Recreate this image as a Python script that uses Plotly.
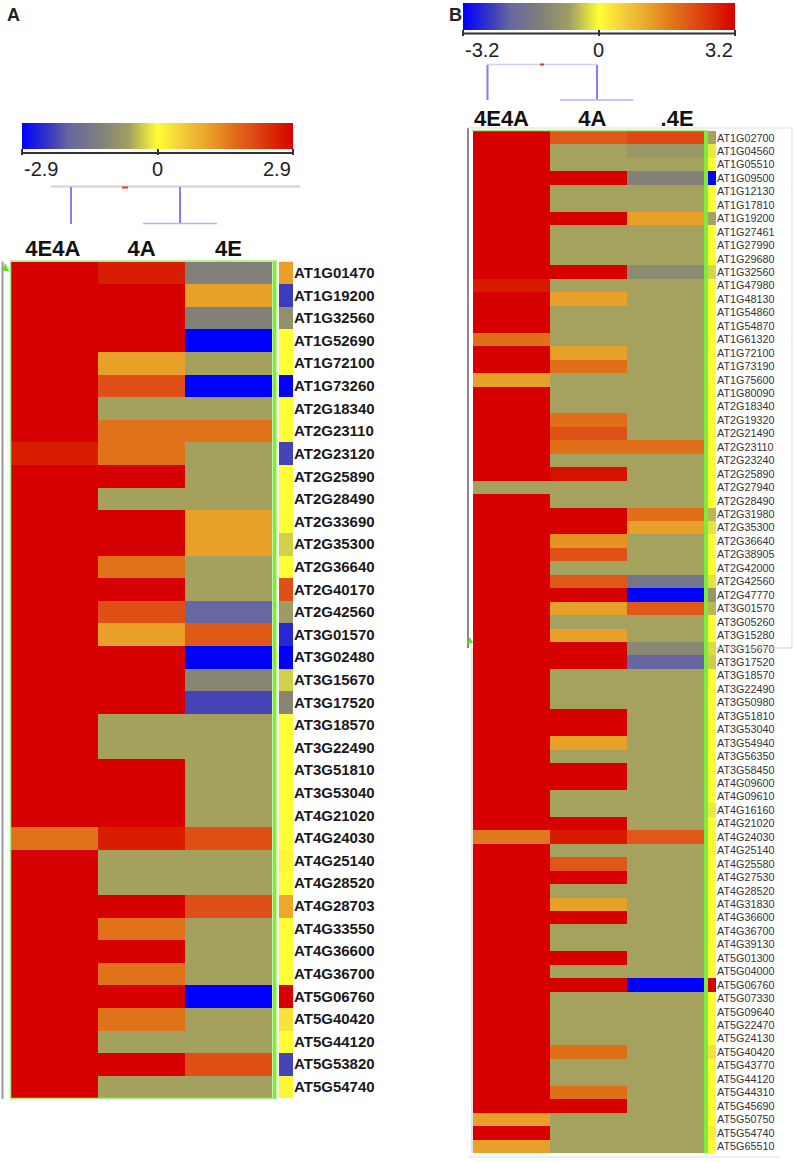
import plotly.graph_objects as go

W, H = 797, 1162


def px(x):
    return x / W


def py(y):
    return 1 - y / H


FONT = "Liberation Sans, Arial, sans-serif"

# ---------------- Panel A data (scale -2.9 .. 2.9) ----------------
cols_a = ["4E4A", "4A", "4E"]
genes_a = ["AT1G01470", "AT1G19200", "AT1G32560", "AT1G52690", "AT1G72100", "AT1G73260",
           "AT2G18340", "AT2G23110", "AT2G23120", "AT2G25890", "AT2G28490", "AT2G33690",
           "AT2G35300", "AT2G36640", "AT2G40170", "AT2G42560", "AT3G01570", "AT3G02480",
           "AT3G15670", "AT3G17520", "AT3G18570", "AT3G22490", "AT3G51810", "AT3G53040",
           "AT4G21020", "AT4G24030", "AT4G25140", "AT4G28520", "AT4G28703", "AT4G33550",
           "AT4G36600", "AT4G36700", "AT5G06760", "AT5G40420", "AT5G44120", "AT5G53820",
           "AT5G54740"]
a_4e4a = [2.9, 2.9, 2.9, 2.9, 2.9, 2.9, 2.9, 2.9, 2.6, 2.9, 2.9, 2.9, 2.9, 2.9, 2.9, 2.9, 2.9, 2.9,
          2.9, 2.9, 2.9, 2.9, 2.9, 2.9, 2.9, 1.6, 2.9, 2.9, 2.9, 2.9, 2.9, 2.9, 2.9, 2.9, 2.9, 2.9, 2.9]
a_4a = [2.6, 2.9, 2.9, 2.9, 1.1, 2.0, -0.6, 1.6, 1.6, 2.9, -0.6, 2.9, 2.9, 1.6, 2.9, 2.0, 1.1, 2.9,
        2.9, 2.9, -0.6, -0.6, 2.9, 2.9, 2.9, 2.6, -0.6, -0.6, 2.9, 1.6, 2.9, 1.6, 2.9, 1.6, -0.6, 2.9, -0.6]
a_4e = [-1.2, 1.1, -1.2, -2.9, -0.6, -2.9, -0.6, 1.6, -0.6, -0.6, -0.6, 1.1, 1.1, -0.6, -0.6, -1.9, 1.9, -2.9,
        -1.1, -2.2, -0.6, -0.6, -0.6, -0.6, -0.6, 2.0, -0.6, -0.6, 2.0, -0.6, -0.6, -0.6, -2.9, -0.6, -0.6, 2.0, -0.6]
a_side = [1.1, -2.3, -0.9, 0, 0, -2.9, 0, 0, -2.2, 0, 0, 0, -0.3, 0, 2.0, -0.7, -2.5, -2.9,
          -0.3, -1.1, 0, 0, 0, 0, 0, 0, 0.1, 0, 1.0, 0, 0, 0, 2.9, 0.3, 0, -2.2, 0.1]
ticks_a = [-2.9, 0, 2.9]

# ---------------- Panel B data (scale -3.2 .. 3.2) ----------------
cols_b = ["4E4A", "4A", ".4E"]
genes_b = ["AT1G02700", "AT1G04560", "AT1G05510", "AT1G09500", "AT1G12130", "AT1G17810",
           "AT1G19200", "AT1G27461", "AT1G27990", "AT1G29680", "AT1G32560", "AT1G47980",
           "AT1G48130", "AT1G54860", "AT1G54870", "AT1G61320", "AT1G72100", "AT1G73190",
           "AT1G75600", "AT1G80090", "AT2G18340", "AT2G19320", "AT2G21490", "AT2G23110",
           "AT2G23240", "AT2G25890", "AT2G27940", "AT2G28490", "AT2G31980", "AT2G35300",
           "AT2G36640", "AT2G38905", "AT2G42000", "AT2G42560", "AT2G47770", "AT3G01570",
           "AT3G05260", "AT3G15280", "AT3G15670", "AT3G17520", "AT3G18570", "AT3G22490",
           "AT3G50980", "AT3G51810", "AT3G53040", "AT3G54940", "AT3G56350", "AT3G58450",
           "AT4G09600", "AT4G09610", "AT4G16160", "AT4G21020", "AT4G24030", "AT4G25140",
           "AT4G25580", "AT4G27530", "AT4G28520", "AT4G31830", "AT4G36600", "AT4G36700",
           "AT4G39130", "AT5G01300", "AT5G04000", "AT5G06760", "AT5G07330", "AT5G09640",
           "AT5G22470", "AT5G24130", "AT5G40420", "AT5G43770", "AT5G44120", "AT5G44310",
           "AT5G45690", "AT5G50750", "AT5G54740", "AT5G65510"]
b_4e4a = [3.2, 3.2, 3.2, 3.2, 3.2, 3.2, 3.2, 3.2, 3.2, 3.2, 3.2, 2.9, 3.2, 3.2, 3.2, 1.8, 3.2, 3.2,
          1.2, 3.2, 3.2, 3.2, 3.2, 3.2, 3.2, 3.2, -0.66, 3.2, 3.2, 3.2, 3.2, 3.2, 3.2, 3.2, 3.2, 3.2,
          3.2, 3.2, 3.2, 3.2, 3.2, 3.2, 3.2, 3.2, 3.2, 3.2, 3.2, 3.2, 3.2, 3.2, 3.2, 3.2, 1.7, 3.2,
          3.2, 3.2, 3.2, 3.2, 3.2, 3.2, 3.2, 3.2, 3.2, 3.2, 3.2, 3.2, 3.2, 3.2, 3.2, 3.2, 3.2, 3.2,
          3.2, 1.2, 3.2, 1.2]
b_4a = [2.1, -0.66, -0.66, 3.2, -0.66, -0.66, 3.2, -0.66, -0.66, -0.66, 3.2, -0.66, 1.2, -0.66, -0.66, -0.66, 1.2, 1.8,
        -0.66, -0.66, -0.66, 1.8, 2.2, 1.8, -0.66, 3.0, -0.66, -0.66, 3.2, 3.2, 1.4, 2.2, -0.66, 2.1, 3.2, 1.2,
        -0.66, 1.2, 3.2, 3.2, -0.66, -0.66, -0.66, 3.2, 3.2, 1.2, -0.66, 3.2, 3.2, -0.66, -0.66, 3.2, 2.9, -0.66,
        2.1, 3.2, -0.66, 1.2, 3.2, -0.66, -0.66, 3.2, -0.66, 3.2, -0.66, -0.66, -0.66, -0.66, 1.8, -0.66, -0.66, 1.8,
        3.2, -0.66, -0.66, -0.66]
b_4e = [2.3, -0.85, -0.66, -1.3, -0.66, -0.66, 1.2, -0.66, -0.66, -0.66, -1.1, -0.66, -0.66, -0.66, -0.66, -0.66, -0.66, -0.66,
        -0.66, -0.66, -0.66, -0.66, -0.66, 1.8, -0.66, -0.66, -0.66, -0.66, 1.8, 1.2, -0.66, -0.66, -0.66, -1.7, -3.2, 2.1,
        -0.66, -0.66, -1.2, -2.1, -0.66, -0.66, -0.66, -0.66, -0.66, -0.66, -0.66, -0.66, -0.66, -0.66, -0.66, -0.66, 2.1, -0.66,
        -0.66, -0.66, -0.66, -0.66, -0.66, -0.66, -0.66, -0.66, -0.66, -3.2, -0.66, -0.66, -0.66, -0.66, -0.66, -0.66, -0.66, -0.66,
        -0.66, -0.66, -0.66, -0.66]
b_side = [-0.66, -0.15, 0, -3.2, 0, 0, -0.66, 0, 0, 0, -0.3, 0, 0, 0, 0, 0, 0, 0,
          0, 0, 0, 0, 0, 0, 0, 0, 0, 0, -0.5, -0.2, 0, 0, 0, -0.2, -0.9, -0.5,
          0, 0, -0.25, -0.35, 0, 0, 0, 0, 0, 0, 0, 0, 0, 0, -0.15, 0, 0.1, 0.1,
          0, 0, 0, 0, 0, 0, 0, 0, 0, 3.2, 0, 0, 0, 0, 0.35, 0, 0, 0,
          0, 0, 0.2, 0]
ticks_b = [-3.2, 0, 3.2]

COLORSCALE = [
    [0.0, "#0000ff"], [0.12, "#4444b4"], [0.17, "#6666a2"], [0.29, "#80807a"],
    [0.395, "#a3a060"], [0.5, "#ffff33"], [0.6, "#f2c83a"], [0.69, "#e8a028"],
    [0.78, "#e07018"], [0.845, "#df5016"], [0.95, "#d81c00"], [1.0, "#d60000"],
]

na, nb = len(genes_a), len(genes_b)
z_a = [[a_4e4a[i], a_4a[i], a_4e[i]] for i in range(na)]
z_b = [[b_4e4a[i], b_4a[i], b_4e[i]] for i in range(nb)]

fig = go.Figure()
fig.add_trace(go.Heatmap(z=z_a, x=[0, 1, 2], y=list(range(na)), coloraxis="coloraxis",
                         xaxis="x", yaxis="y", hoverinfo="skip"))
fig.add_trace(go.Heatmap(z=[[v] for v in a_side], x=[0], y=list(range(na)), coloraxis="coloraxis",
                         xaxis="x2", yaxis="y2", hoverinfo="skip"))
fig.add_trace(go.Heatmap(z=z_b, x=[0, 1, 2], y=list(range(nb)), coloraxis="coloraxis2",
                         xaxis="x3", yaxis="y3", hoverinfo="skip"))
fig.add_trace(go.Heatmap(z=[[v] for v in b_side], x=[0], y=list(range(nb)), coloraxis="coloraxis2",
                         xaxis="x4", yaxis="y4", hoverinfo="skip"))

# geometry (pixels)
A_TOP, A_BOT = 261.5, 1098
B_TOP, B_BOT = 131, 1153

hide = dict(showgrid=False, zeroline=False, showline=False, ticks="", fixedrange=True)
head_font = dict(family=FONT, size=22, color="#111111", weight="bold")


def colorbar(cx, top, length, thick, tv):
    return dict(orientation="h", lenmode="pixels", len=length, thicknessmode="pixels",
                thickness=thick, x=px(cx), xanchor="center", y=py(top), yanchor="top",
                xpad=0, ypad=0, outlinewidth=0, ticks="outside", ticklen=6, tickwidth=2,
                tickcolor="#333333", tickvals=tv, showticklabels=False)


fig.update_layout(
    width=W, height=H, margin=dict(l=0, r=0, t=0, b=0),
    paper_bgcolor="white", plot_bgcolor="white", showlegend=False,
    coloraxis=dict(colorscale=COLORSCALE, cmin=ticks_a[0], cmax=ticks_a[-1],
                   colorbar=colorbar(157.5, 123, 271, 26, ticks_a)),
    coloraxis2=dict(colorscale=COLORSCALE, cmin=ticks_b[0], cmax=ticks_b[-1],
                    colorbar=colorbar(599, 3, 272, 27, ticks_b)),
    xaxis=dict(domain=[px(11), px(272)], range=[-0.5, 2.5], side="top", tickvals=[-0.02, 1.0, 2.0],
               ticktext=cols_a, tickfont=head_font, anchor="y", **hide),
    yaxis=dict(domain=[py(A_BOT), py(A_TOP)], range=[na - 0.5, -0.5], showticklabels=False,
               anchor="x", **hide),
    xaxis2=dict(domain=[px(279), px(293)], range=[-0.5, 0.5], showticklabels=False, anchor="y2", **hide),
    yaxis2=dict(domain=[py(A_BOT), py(A_TOP)], range=[na - 0.5, -0.5], side="right",
                tickvals=list(range(na)), ticktext=genes_a, anchor="x2",
                tickfont=dict(family=FONT, size=15, color="#1a1a1a", weight="bold"), **hide),
    xaxis3=dict(domain=[px(473), px(704)], range=[-0.5, 2.5], side="top", tickvals=[-0.13, 1.05, 2.15],
                ticktext=cols_b, tickfont=head_font, anchor="y3", **hide),
    yaxis3=dict(domain=[py(B_BOT), py(B_TOP)], range=[nb - 0.5, -0.5], showticklabels=False,
                anchor="x3", **hide),
    xaxis4=dict(domain=[px(708), px(716)], range=[-0.5, 0.5], showticklabels=False, anchor="y4", **hide),
    yaxis4=dict(domain=[py(B_BOT), py(B_TOP)], range=[nb - 0.5, -0.5], side="right",
                tickvals=list(range(nb)), ticktext=genes_b, anchor="x4",
                tickfont=dict(family=FONT, size=10.8, color="#333333"), **hide),
)

shapes = []


def line(x0, y0, x1, y1, color, width):
    shapes.append(dict(type="line", xref="paper", yref="paper", x0=px(x0), y0=py(y0),
                       x1=px(x1), y1=py(y1), line=dict(color=color, width=width)))


GREEN = "#7ded3c"
LGREEN = "#a6ee80"
DBLUE = "#7f7ff0"
LBLUE = "#b4b4f4"

# Panel A frame
line(2.5, A_TOP, 2.5, A_BOT + 1, "#999999", 2)
line(10, A_TOP - 0.5, 277, A_TOP - 0.5, LGREEN, 1.5)
line(10.5, A_TOP, 10.5, A_BOT, LGREEN, 1.5)
line(10, A_BOT + 0.5, 277, A_BOT + 0.5, LGREEN, 1.5)
line(274.5, A_TOP, 274.5, A_BOT, GREEN, 4)
shapes.append(dict(type="path", xref="paper", yref="paper",
                   path=f"M {px(2)},{py(271)} L {px(9)},{py(271)} L {px(5)},{py(263)} Z",
                   fillcolor="#66dd22", line=dict(width=0)))
# Panel A colorbar axis line
line(22, 153, 293, 153, "#333333", 2)
# Panel A dendrogram
line(51, 186.5, 300, 186.5, "#d0d0d0", 2)
line(122, 187.5, 128, 187.5, "#ee3333", 2)
line(71, 187, 71, 224, DBLUE, 2)
line(180, 187, 180, 223, DBLUE, 2)
line(143, 223.5, 217, 223.5, LBLUE, 1.5)

# Panel B frame
line(468, 128, 468, 648, "#888888", 2)
line(472, 648, 472, B_BOT, "#cccccc", 1)
line(468, 128, 792, 128, "#dddddd", 1)
line(792, 128, 792, 648, "#dddddd", 1)
line(716, 648, 792, 648, "#cccccc", 1)
line(472, B_TOP - 0.5, 708, B_TOP - 0.5, LGREEN, 1.5)
line(706, B_TOP, 706, B_BOT, GREEN, 4)
line(468, 1157, 780, 1157, "#dddddd", 1)
shapes.append(dict(type="path", xref="paper", yref="paper",
                   path=f"M {px(467)},{py(643)} L {px(473)},{py(643)} L {px(470)},{py(637)} Z",
                   fillcolor="#66dd22", line=dict(width=0)))
# Panel B colorbar axis line
line(463, 33.5, 735, 33.5, "#333333", 2)
# Panel B dendrogram
line(487, 64.5, 597, 64.5, "#d0d0f4", 1.5)
line(540, 64.5, 544, 64.5, "#ee3333", 2)
line(487.5, 65, 487.5, 100, DBLUE, 2)
line(597, 65, 597, 99.5, DBLUE, 2)
line(560, 100, 633, 100, LBLUE, 1.5)

fig.update_layout(shapes=shapes)

ann = []


def text(x, y, s, size, anchor="center", bold=False):
    ann.append(dict(x=px(x), y=py(y), xref="paper", yref="paper", text=s, showarrow=False,
                    xanchor=anchor, yanchor="middle",
                    font=dict(family=FONT, size=size, color="#222222",
                              weight="bold" if bold else "normal")))


# colorbar tick labels
text(22, 169, f"{ticks_a[0]:g}", 20, "left")
text(157.5, 169, f"{ticks_a[1]:g}", 20, "center")
text(293, 169, f"{ticks_a[2]:g}", 20, "right")
text(463, 50, f"{ticks_b[0]:g}", 20, "left")
text(598, 50, f"{ticks_b[1]:g}", 20, "center")
text(735, 50, f"{ticks_b[2]:g}", 20, "right")
# panel letters
text(5, 15, "A", 18, "left", True)
text(447, 15, "B", 18, "left", True)

fig.update_layout(annotations=ann)

fig.write_html("out.html", config={"displayModeBar": False},
               post_script="document.body.style.margin='0';")
